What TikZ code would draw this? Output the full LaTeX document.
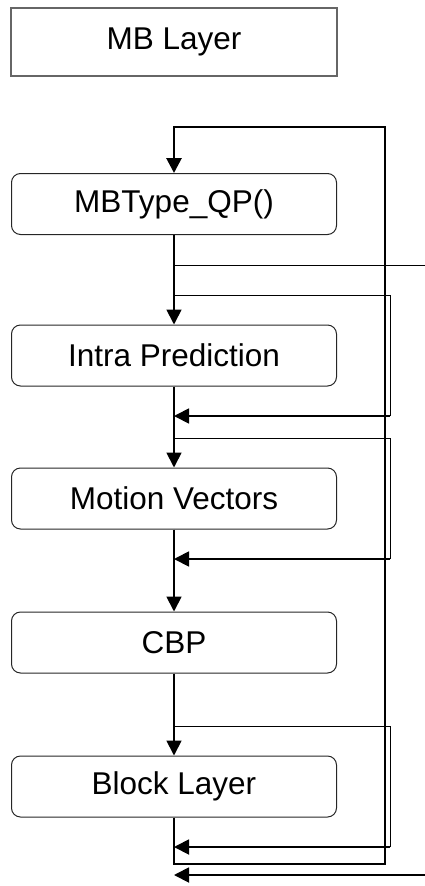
\documentclass[tikz,border=0pt]{standalone}
\usepackage{fontspec}
\setmainfont{Liberation Sans}
\usetikzlibrary{arrows.meta}
\begin{document}
\begin{tikzpicture}[x=1pt,y=-1pt,
  lbl/.style={font=\fontsize{31.5}{36}\selectfont},
  procbox/.style={draw=black!85,line width=1pt,rounded corners=9pt,minimum width=325pt,minimum height=61pt,inner sep=0pt,lbl},
  headbox/.style={draw=black!60,line width=1.5pt,minimum width=326pt,minimum height=68pt,inner sep=0pt,lbl},
  tip/.style={-{Triangle[length=15pt,width=15pt]}},
  mainln/.style={line width=1.8pt},
  thickln/.style={line width=2.8pt},
  thinln/.style={line width=1pt}]
\useasboundingbox (0,0) rectangle (425,886);
\node[headbox] (mb) at (174,42) {MB Layer};
\node[procbox] (mbt) at (174,204) {MBType\_QP()};
\node[procbox] (intra) at (174,355.5) {Intra Prediction};
\node[procbox] (mv) at (174,498.5) {Motion Vectors};
\node[procbox] (cbp) at (174,642.5) {CBP};
\node[procbox] (blk) at (174,786.5) {Block Layer};
% column points
\coordinate (t0) at (174,127);
\coordinate (tr) at (385,127);
\coordinate (br) at (385,864);
\coordinate (b0) at (174,864);
\coordinate (a1) at (174,265);
\coordinate (a1r) at (425,265);
\coordinate (s1) at (174,295);
\coordinate (s1r) at (390,295);
\coordinate (e1r) at (390,416);
\coordinate (e1) at (174,416);
\coordinate (s2) at (174,438);
\coordinate (s2r) at (390,438);
\coordinate (e2r) at (390,559);
\coordinate (e2) at (174,559);
\coordinate (s3) at (174,726);
\coordinate (s3r) at (390,726);
\coordinate (e3r) at (390,847);
\coordinate (e3) at (174,847);
\coordinate (outr) at (425,875);
\coordinate (outl) at (174,875);
% main flow
\draw[mainln,tip] (mbt.south) -- (intra.north);
\draw[mainln,tip] (intra.south) -- (mv.north);
\draw[mainln,tip] (mv.south) -- (cbp.north);
\draw[mainln,tip] (cbp.south) -- (blk.north);
% outer loop
\draw[thickln,tip] (blk.south) -- (b0) -- (br) -- (tr) -- (t0) -- (mbt.north);
% branches
\draw[thinln] (a1) -- (a1r);
\draw[thinln] (s1) -- (s1r) -- (e1r);
\draw[mainln,tip] (e1r) -- (e1);
\draw[thinln] (s2) -- (s2r) -- (e2r);
\draw[mainln,tip] (e2r) -- (e2);
\draw[thinln] (s3) -- (s3r) -- (e3r);
\draw[mainln,tip] (e3r) -- (e3);
\draw[mainln,tip] (outr) -- (outl);
\end{tikzpicture}
\end{document}
